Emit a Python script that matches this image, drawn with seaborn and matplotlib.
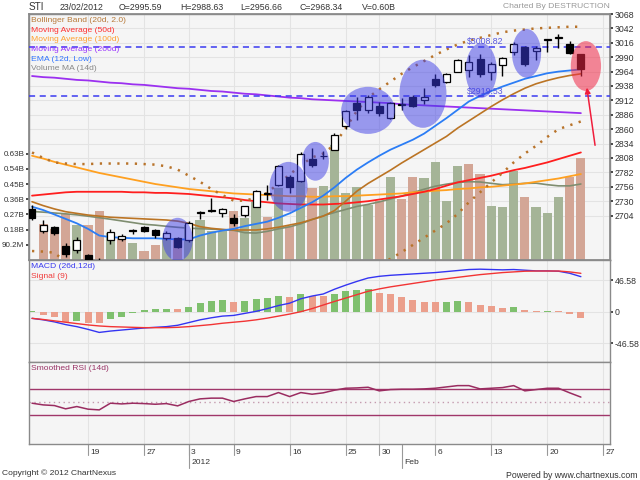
import numpy as np
import pandas as pd
import seaborn as sns
import matplotlib
matplotlib.use("Agg")
import matplotlib.pyplot as plt
from matplotlib.patches import Ellipse
from matplotlib.transforms import blended_transform_factory

# STI daily, 12/12/2011 .. 23/02/2012 (trading days)
day_idx = list(range(50))
opens = [2716, 2677, 2683, 2649, 2642, 2632, 2622, 2660, 2661, 2677,
         2683, 2678, 2663, 2663, 2660, 2709, 2712, 2708, 2699, 2705,
         2720, 2745, 2759, 2774, 2767, 2806, 2811, 2823, 2866, 2907,
         2895, 2902, 2881, 2904, 2919, 2912, 2950, 2946, 2964, 2967,
         2986, 2963, 2976, 3000, 3008, 3001, 3021, 3025, 3014, 2995.59]
highs = [2723, 2696, 2685, 2654, 2666, 2634, 2628, 2680, 2670, 2679,
         2685, 2680, 2676, 2666, 2694, 2712, 2735, 2717, 2707, 2722,
         2750, 2760, 2796, 2777, 2818, 2826, 2821, 2853, 2895, 2919,
         2922, 2910, 2910, 2916, 2921, 2934, 2960, 2962, 2987, 2994,
         2996, 2982, 2991, 3017, 3010, 3010, 3023, 3032, 3019, 2995.59]
lows = [2696, 2673, 2669, 2629, 2636, 2610, 2608, 2652, 2658, 2671,
        2674, 2664, 2660, 2645, 2657, 2697, 2710, 2702, 2686, 2702,
        2719, 2733, 2757, 2745, 2765, 2792, 2806, 2822, 2860, 2877,
        2890, 2883, 2879, 2895, 2900, 2906, 2937, 2944, 2963, 2955,
        2954, 2949, 2956, 2994, 2974, 2985, 2999, 3007, 2996, 2956.66]
closes = [2700, 2687, 2672, 2634, 2660, 2620, 2615, 2675, 2667, 2678,
          2677, 2669, 2672, 2647, 2691, 2711, 2714, 2716, 2690, 2721,
          2748, 2743, 2794, 2756, 2816, 2795, 2812, 2850, 2892, 2895,
          2919, 2889, 2908, 2905, 2902, 2919, 2940, 2960, 2985, 2982,
          2960, 2977, 2988, 3014, 2978, 3006, 3022, 3026, 2997, 2968.34]
volumes = [np.nan, 0.215, 0.185, 0.272, 0.208, 0.205, 0.29, 0.16, 0.135, 0.10,
           0.052, 0.09, 0.125, 0.13, 0.21, 0.237, 0.17, 0.17, 0.293, 0.25,
           0.345, 0.253, 0.43, 0.20, 0.47, 0.43, 0.44, 0.68, 0.40, 0.435,
           0.326, 0.352, 0.494, 0.36, 0.49, 0.485, 0.58, 0.352, 0.558, 0.568,
           0.51, 0.32, 0.313, 0.53, 0.372, 0.313, 0.277, 0.372, 0.494, 0.603]

bb_upper = [2818, 2808, 2800, 2798, 2797, 2797, 2798, 2798, 2798, 2798,
            2797, 2796, 2793, 2787, 2776, 2765, 2752, 2741, 2731, 2731,
            2736, 2745, 2762, 2778, 2795, 2809, 2816, 2832, 2862, 2893,
            2917, 2932, 2946, 2960, 2972, 2983, 2994, 3004, 3013, 3020,
            3025, 3030, 3035, 3038, 3040, 3042, 3043, 3044, 3045, 3045]
bb_mid = [2729, 2722, 2716, 2711, 2708, 2705, 2703, 2701, 2700, 2699,
          2698, 2697, 2696, 2694, 2690, 2684, 2681, 2679, 2678, 2678,
          2678, 2680, 2683, 2687, 2691, 2697, 2703, 2713, 2730, 2748,
          2762, 2774, 2786, 2799, 2811, 2823, 2835, 2847, 2862, 2875,
          2888, 2901, 2913, 2924, 2934, 2942, 2948, 2953, 2957, 2960]
bb_lower = [2640, 2639, 2637, 2620, 2615, 2610, 2606, 2603, 2601, 2600,
            2599, 2598, 2597, 2596, 2600, 2603, 2606, 2609, 2611, 2611,
            2609, 2606, 2602, 2596, 2587, 2584, 2590, 2594, 2598, 2603,
            2607, 2616, 2626, 2638, 2651, 2664, 2677, 2690, 2707, 2728,
            2746, 2764, 2781, 2800, 2816, 2830, 2846, 2860, 2867, 2874]
ma50 = [2740, 2742, 2744, 2746, 2747, 2747, 2747, 2747, 2747, 2746,
        2746, 2745, 2745, 2744, 2743, 2741, 2739, 2737, 2735, 2732,
        2730, 2728, 2726, 2725, 2724, 2724, 2724, 2725, 2726, 2728,
        2730, 2733, 2736, 2739, 2743, 2747, 2752, 2758, 2764, 2768,
        2772, 2776, 2781, 2786, 2790, 2795, 2800, 2806, 2812, 2818]
ma100 = [2812, 2807, 2801, 2796, 2791, 2786, 2781, 2777, 2773, 2769,
         2765, 2761, 2758, 2755, 2752, 2750, 2748, 2746, 2744, 2743,
         2742, 2741, 2740, 2739, 2739, 2738, 2738, 2739, 2739, 2740,
         2741, 2742, 2743, 2744, 2746, 2747, 2749, 2750, 2752, 2753,
         2755, 2756, 2758, 2760, 2762, 2765, 2768, 2771, 2775, 2779]
ma200 = [2956, 2954, 2953, 2951, 2949, 2948, 2946, 2944, 2943, 2941,
         2940, 2938, 2936, 2934, 2933, 2931, 2929, 2928, 2926, 2924,
         2923, 2921, 2919, 2917, 2916, 2914, 2913, 2912, 2911, 2910,
         2909, 2908, 2907, 2905, 2904, 2903, 2902, 2901, 2900, 2899,
         2898, 2897, 2896, 2895, 2894, 2893, 2892, 2891, 2890, 2889]
ema12_low = [2720, 2714, 2706, 2698, 2690, 2680, 2668, 2665, 2664, 2663,
             2663, 2663, 2662, 2661, 2661, 2668, 2673, 2677, 2680, 2685,
             2689, 2693, 2700, 2708, 2718, 2728, 2740, 2755, 2772, 2787,
             2800, 2812, 2823, 2832, 2841, 2852, 2866, 2880, 2895, 2910,
             2920, 2929, 2937, 2944, 2951, 2956, 2961, 2964, 2966, 2968]
vol_ma = [0.288, 0.284, 0.279, 0.274, 0.268, 0.260, 0.251, 0.242, 0.232, 0.222,
          0.212, 0.207, 0.200, 0.194, 0.189, 0.186, 0.183, 0.180, 0.176, 0.162,
          0.160, 0.170, 0.185, 0.197, 0.215, 0.240, 0.262, 0.282, 0.300, 0.318,
          0.330, 0.345, 0.362, 0.380, 0.400, 0.420, 0.438, 0.450, 0.460, 0.465,
          0.463, 0.455, 0.447, 0.450, 0.455, 0.456, 0.447, 0.440, 0.440, 0.451]

macd = [-9.8, -12, -15, -19, -22, -26, -30.5, -28.5, -27, -25.5,
        -24, -23, -22, -20, -16, -12, -9, -6.5, -5.5, -2.5,
        0.5, 4.5, 9, 12.5, 19, 23, 26, 33, 39, 44.5,
        49.5, 52, 53.5, 54.5, 55.5, 56.5, 57.5, 59, 60.5, 62,
        62.5, 62, 61.5, 62, 61, 60, 60, 59.5, 56.5, 51.5]
signal = [-9.8, -11.5, -13.5, -15.5, -17.5, -19.5, -21, -22, -22.5, -23,
          -23.5, -23.5, -23.5, -23, -22, -20.5, -19, -17, -15.5, -14,
          -12, -9.5, -6.5, -3.5, 0, 4.5, 9.8, 15, 20, 25,
          30, 33.5, 36.5, 39, 41.5, 44, 46.5, 48.5, 50.5, 52.5,
          54.5, 56, 57.5, 58.5, 59.5, 59.8, 59.8, 59.8, 58.5, 56.4]
macd_hist = [1.5, -4.9, -7.3, -14.7, -13.7, -16.2, -17.2, -10.8, -7.4, -2.5,
             2.5, 3.4, 3.9, 3.4, 7.4, 12.3, 15.7, 16.7, 13.7, 15.7,
             19.1, 19.4, 23.5, 21.1, 26.0, 23.5, 23.0, 25.5, 30.4, 31.4,
             32.8, 27.9, 26.0, 22.1, 17.2, 14.7, 13.7, 13.8, 15.2, 13.7,
             10.3, 7.8, 5.4, 6.9, 2.0, 1.0, 1.1, 0.8, -3.9, -9.8]
rsi = [48.2, 45.6, 44.6, 39.6, 43.1, 39.1, 38.0, 48.2, 47.1, 48.2,
       47.6, 46.6, 47.6, 44.1, 50.8, 54.8, 55.9, 55.9, 50.8, 54.8,
       58.3, 58.3, 64.4, 58.3, 64.4, 61.9, 64, 68, 71, 71.5,
       72.5, 67, 69, 69.5, 69.5, 70, 71, 73, 75, 75,
       70, 71, 72, 75, 67, 69, 71, 71, 64, 57.5]

# axis labels
tick_pos = [5, 10, 14, 18, 23, 28, 31, 36, 41, 46, 51]
tick_labels = ['19', '27', '3', '9', '16', '25', '30', '6', '13', '20', '27']
month_pos = [14, 33]
month_labels = ['2012', 'Feb']
price_ticks = [2704, 2730, 2756, 2782, 2808, 2834, 2860, 2886, 2912, 2938,
               2964, 2990, 3016, 3042, 3068]
vol_ticks = [0.0902, 0.1804, 0.2706, 0.3608, 0.451, 0.5412, 0.6314]
vol_tick_labels = ['90.2M', '0.18B', '0.27B', '0.36B', '0.45B', '0.54B', '0.63B']
macd_ticks = [-46.58, 0, 46.58]
levels = [3008.82, 2919.53]

# hand drawn circles (center day, center price, width in days, height in price)
circ_x = [13.0, 22.9, 25.3, 30.0, 34.9, 40.1, 44.15]
circ_y = [2661, 2756, 2802, 2894, 2924, 2966, 2997]
circ_w = [2.7, 3.4, 2.4, 4.8, 4.2, 2.8, 2.6]
circ_h = [78, 90, 70, 85, 123, 99, 88]
red_circ = (49.45, 2974, 2.7, 90)

df = pd.DataFrame({'i': day_idx, 'open': opens, 'high': highs, 'low': lows,
                   'close': closes, 'vol': volumes, 'vol_ma': vol_ma,
                   'bb_upper': bb_upper, 'bb_mid': bb_mid, 'bb_lower': bb_lower,
                   'ma50': ma50, 'ma100': ma100, 'ma200': ma200, 'ema': ema12_low,
                   'macd': macd, 'signal': signal, 'hist': macd_hist, 'rsi': rsi})
df['vdir'] = np.where(df['close'].diff().fillna(0) >= 0, 'up', 'down')
df['hdir'] = np.where(df['hist'].diff().fillna(1) >= 0, 'up', 'down')

sns.set_theme(style="white")
plt.rcParams['font.family'] = ['Liberation Sans', 'DejaVu Sans']

BG = '#f5f5f5'
GRID = '#e3e3e3'
SPINE = '#8a8a8a'
XMIN, XMAX = -0.27, 51.6

fig = plt.figure(figsize=(6.4, 4.8), dpi=100)
L, W = 29 / 640, 581 / 640
ax_vol = fig.add_axes([L, 1 - 260 / 480, W, 246 / 480])
ax_macd = fig.add_axes([L, 1 - 362 / 480, W, 102 / 480])
ax_rsi = fig.add_axes([L, 1 - 444 / 480, W, 82 / 480])

for ax in (ax_vol, ax_macd, ax_rsi):
    ax.set_facecolor(BG)
    for x in tick_pos:
        ax.axvline(x, color=GRID, lw=0.8, zorder=0)
    for s in ax.spines.values():
        s.set_color(SPINE)
        s.set_linewidth(1.0)

# ---- main panel: volume (left scale)
sns.barplot(data=df, x='i', y='vol', hue='vdir',
            palette={'up': '#a5b497', 'down': '#d3a696'},
            native_scale=True, width=0.82, dodge=False, saturation=1,
            legend=False, errorbar=None, linewidth=0, ax=ax_vol, zorder=1)
sns.lineplot(data=df, x='i', y='vol_ma', color='#7f8d70', lw=1.2, ax=ax_vol, zorder=2)
ax_vol.set_ylim(0, 1.46)
ax_vol.set_xlim(XMIN, XMAX)
ax_vol.set_xticks([])
ax_vol.set_yticks(vol_ticks)
ax_vol.set_yticklabels(vol_tick_labels)
ax_vol.tick_params(axis='y', left=True, length=2, pad=1.5, labelsize=5.8,
                   colors='#333333')
ax_vol.set_xlabel('')
ax_vol.set_ylabel('')

# price gridlines behind volume bars
pmin, pmax = 2623.8, 3068
for p in price_ticks:
    f = (p - pmin) / (pmax - pmin)
    ax_vol.plot([0, 1], [f, f], transform=ax_vol.transAxes, color=GRID, lw=0.8, zorder=0)

# ---- main panel: price (right scale)
ax_price = ax_vol.twinx()
ax_price.patch.set_visible(False)
ax_price.set_ylim(pmin, pmax)
ax_price.set_xlim(XMIN, XMAX)
for s in ax_price.spines.values():
    s.set_color(SPINE)

sns.lineplot(data=df, x='i', y='ma200', color='#9b30f0', lw=1.3, ax=ax_price)
sns.lineplot(data=df, x='i', y='ma100', color='#ffa020', lw=1.3, ax=ax_price)
sns.lineplot(data=df, x='i', y='ma50', color='#ff1e1e', lw=1.3, ax=ax_price)
sns.lineplot(data=df, x='i', y='bb_mid', color='#bb7424', lw=1.2, ax=ax_price)
sns.lineplot(data=df, x='i', y='ema', color='#2b7df5', lw=1.3, ax=ax_price)
for col in ('bb_upper', 'bb_lower'):
    ax_price.plot(df['i'], df[col], color='#b8732a', lw=1.8,
                  ls=(0, (0.9, 2.6)), dash_capstyle='butt')

for lv in levels:
    ax_price.axhline(lv, color='#3a3af0', lw=1.1, ls=(0, (4, 3)), zorder=3)
    ax_price.text(38.8, lv + 1, '$%.2f' % lv, color='#5858e0', fontsize=6.3,
                  va='bottom', ha='left', zorder=3)

# candles
up = df['close'] >= df['open']
ax_price.vlines(df['i'], df['low'], df['high'], color='black', lw=1.0, zorder=4)
body_lo = np.minimum(df['open'], df['close'])
body_h = np.maximum(np.abs(df['close'] - df['open']), 0.8)
ax_price.bar(df['i'], body_h, bottom=body_lo, width=0.62,
             color=np.where(up, 'white', 'black'), edgecolor='black',
             linewidth=0.9, zorder=4)

for cx, cy, cw, ch in zip(circ_x, circ_y, circ_w, circ_h):
    ax_price.add_patch(Ellipse((cx, cy), cw, ch, facecolor='#3c3ce6',
                               alpha=0.5, lw=0, zorder=6))
ax_price.add_patch(Ellipse(red_circ[:2], red_circ[2], red_circ[3],
                           facecolor='#f02846', alpha=0.55, lw=0, zorder=6))
ax_price.annotate('', xy=(49.5, 2940), xytext=(50.3, 2826),
                  arrowprops=dict(arrowstyle='-|>', color='#f01e3c', lw=1.1,
                                  mutation_scale=8), zorder=7,
                  annotation_clip=False)

ax_price.set_yticks(price_ticks)
ax_price.set_yticklabels([str(t) for t in price_ticks])
ax_price.tick_params(axis='y', right=True, length=2, pad=1.5, labelsize=6.3,
                     colors='#333333')
ax_price.set_xticks([])
ax_price.set_xlabel('')
ax_price.set_ylabel('')

legend_items = [('Bollinger Band (20d, 2.0)', '#b87a3a'),
                ('Moving Average (50d)', '#ff3030'),
                ('Moving Average (100d)', '#ffa030'),
                ('Moving Average (200d)', '#9933ff'),
                ('EMA (12d, Low)', '#3377ff'),
                ('Volume MA (14d)', '#888888')]
for k, (txt, col) in enumerate(legend_items):
    fig.text(31 / 640, 1 - (20.5 + 9.7 * k) / 480, txt, color=col,
             fontsize=6.1, va='center', ha='left')

# ---- MACD panel
sns.barplot(data=df, x='i', y='hist', hue='hdir',
            palette={'up': '#7fc06e', 'down': '#eb9f8c'},
            native_scale=True, width=0.62, dodge=False, saturation=1,
            legend=False, errorbar=None, linewidth=0, ax=ax_macd, zorder=1)
sns.lineplot(data=df, x='i', y='macd', color='#3434f2', lw=1.0, ax=ax_macd, zorder=3)
sns.lineplot(data=df, x='i', y='signal', color='#f23434', lw=1.0, ax=ax_macd, zorder=3)
for t in macd_ticks:
    ax_macd.axhline(t, color=GRID, lw=0.8, zorder=0)
ax_macd.set_ylim(-74, 76)
ax_macd.set_xlim(XMIN, XMAX)
ax_macd.set_xticks([])
ax_macd.yaxis.tick_right()
ax_macd.set_yticks(macd_ticks)
ax_macd.set_yticklabels(['-46.58', '0', '46.58'])
ax_macd.tick_params(axis='y', right=True, length=2, pad=1.5, labelsize=6.3,
                    colors='#333333')
ax_macd.set_xlabel('')
ax_macd.set_ylabel('')
fig.text(31 / 640, 1 - 267 / 480, 'MACD (26d,12d)', color='#3a3af0',
         fontsize=6.1, va='center')
fig.text(31 / 640, 1 - 277 / 480, 'Signal (9)', color='#f03a3a',
         fontsize=6.1, va='center')

# ---- RSI panel
ax_rsi.axhline(70, color='#a0366a', lw=1.0, zorder=1)
ax_rsi.axhline(30, color='#a0366a', lw=1.0, zorder=1)
ax_rsi.axhline(50, color='#c49aae', lw=1.0, ls=(0, (1, 2.5)), zorder=1)
sns.lineplot(data=df, x='i', y='rsi', color='#9a2c60', lw=1.1, ax=ax_rsi, zorder=2)
ax_rsi.set_ylim(-14, 111)
ax_rsi.set_xlim(XMIN, XMAX)
ax_rsi.set_yticks([])
ax_rsi.set_xticks([])
ax_rsi.set_xlabel('')
ax_rsi.set_ylabel('')
fig.text(31 / 640, 1 - 369 / 480, 'Smoothed RSI (14d)', color='#993366',
         fontsize=6.1, va='center')

# date axis under the RSI panel
tr = blended_transform_factory(ax_rsi.transData, ax_rsi.transAxes)
for x, lab in zip(tick_pos, tick_labels):
    ax_rsi.plot([x, x], [0, -0.13], transform=tr, color='#999999', lw=0.8,
                clip_on=False)
    ax_rsi.text(x + 0.2, -0.1, lab, transform=tr, fontsize=6.1, va='center',
                ha='left', color='#333333')
for x, lab in zip(month_pos, month_labels):
    ax_rsi.plot([x, x], [0, -0.29], transform=tr, color='#999999', lw=0.8,
                clip_on=False)
    ax_rsi.text(x + 0.2, -0.22, lab, transform=tr, fontsize=6.1, va='center',
                ha='left', color='#333333')

# header and footer
fig.text(29 / 640, 1 - 7 / 480, 'STI', fontsize=7.2, va='center', color='#333333')
header = [(60, '23/02/2012'), (119, 'O=2995.59'), (180, 'H=2988.63'),
          (240, 'L=2956.66'), (300, 'C=2968.34'), (362, 'V=0.60B')]
for x, txt in header:
    fig.text(x / 640, 1 - 7 / 480, txt, fontsize=6.3, va='center', color='#333333')
fig.text(610 / 640, 1 - 7 / 480, 'Charted By DESTRUCTION', fontsize=6.1,
         va='center', ha='right', color='#999999')
fig.text(2 / 640, 1 - 473 / 480, 'Copyright \u00a9 2012 ChartNexus', fontsize=6.1,
         va='center', color='#333333')
fig.text(638 / 640, 1 - 475 / 480, 'Powered by www.chartnexus.com', fontsize=6.3,
         va='center', ha='right', color='#333333')

fig.savefig('out.png', dpi=100)
